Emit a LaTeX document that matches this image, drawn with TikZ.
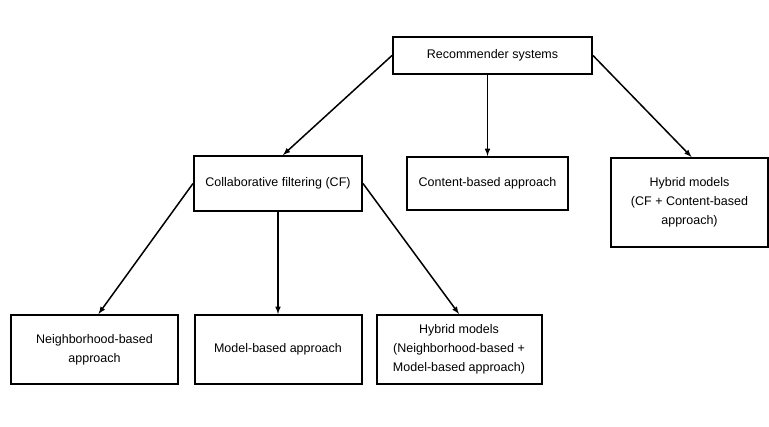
\documentclass[tikz,border=0pt]{standalone}
\usepackage{fontspec}
\setmainfont{Liberation Sans}
\usepackage{tikz}
\usetikzlibrary{positioning}

\begin{document}
\begin{tikzpicture}[x=1pt, y=-1pt, font=\fontsize{12.5}{19}\selectfont, >=latex, line width=1.5pt,
    box/.style = {draw, rectangle, line width=2pt, align=center, inner sep=2pt},
    wide/.style = {box, minimum width=167pt, minimum height=69pt}]
                \useasboundingbox (0,0) rectangle (769,427);
                \node[box, minimum width=199pt, minimum height=37pt] (rec) at (492.5,55.5) {Recommender systems};
                \node[box, minimum width=168pt, minimum height=55pt] (cf) [below of=rec, node distance=128pt, xshift=-214.5pt] {Collaborative filtering (CF)};
                \node[box, minimum width=161pt, minimum height=53pt] (cb) [right of=cf, node distance=209.5pt] {Content-based approach};
                \node[box, minimum width=157pt, minimum height=89pt] (hyb) [right of=cb, node distance=202pt, yshift=-19pt] {Hybrid models\\(CF + Content-based\\approach)};
                \node[wide] (mb) [below of=cf, node distance=166pt] {Model-based approach};
                \node[wide] (nb) [left of=mb, node distance=183.5pt] {Neighborhood-based\\approach};
                \node[wide, minimum width=165pt] (hnm) [right of=mb, node distance=181pt] {Hybrid models\\(Neighborhood-based +\\Model-based approach)};
                \draw[->] (rec.west) -- ([xshift=5pt]cf.north);
                \draw[->] (rec.south -| cb.north) -- (cb.north);
                \draw[->] (rec.east) -- ([xshift=2pt]hyb.north);
                \draw[->] (cf.west) -- ([xshift=4pt]nb.north);
                \draw[->] (cf.south) -- (mb.north);
                \draw[->] (cf.east) -- (hnm.north);
            \end{tikzpicture}
\end{document}
